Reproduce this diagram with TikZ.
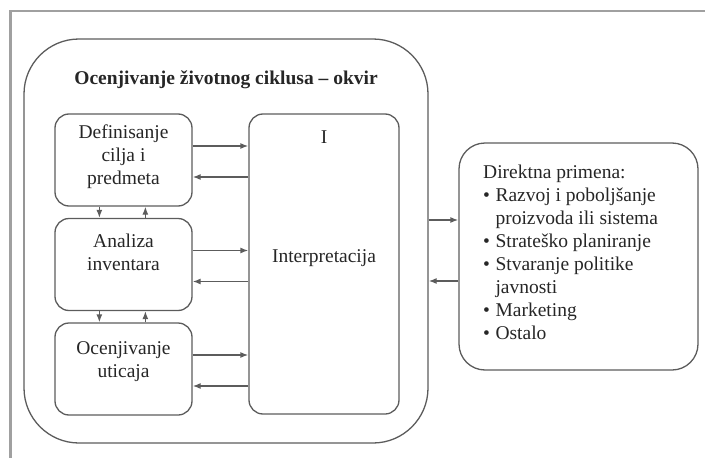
\documentclass[tikz,border=0pt]{standalone}
\usepackage{fontspec}
\setmainfont{Liberation Serif}
\usetikzlibrary{arrows.meta}
\definecolor{edge}{HTML}{5C5C5C}
\definecolor{ink}{HTML}{262626}
\definecolor{framegray}{HTML}{A0A0A0}
\begin{document}
\begin{tikzpicture}[x=1pt,y=-1pt,
  box/.style={draw=edge, line width=1.3pt, rounded corners=14pt, inner sep=0pt},
  arr/.style={draw=edge, line width=1.3pt, -{Latex[length=8pt,width=6pt]}},
  txt/.style={inner sep=0pt, align=center, text=ink, font=\fontsize{19.5}{23}\selectfont},
  ttl/.style={inner sep=0pt, text=ink, font=\fontsize{19.5}{23}\selectfont\bfseries},
  frameline/.style={draw=framegray, line width=2.5pt}]
\useasboundingbox (0,0) rectangle (705,458);
% page frame
\draw[frameline] (10.5,458) -- (10.5,11) -- (705,11);

% life cycle assessment framework
\node[box, rounded corners=55pt, minimum width=404pt, minimum height=404pt] (big) at (226,241) {};
\node[ttl] (title) at (226,80) {Ocenjivanje životnog ciklusa – okvir};

% phases
\node[box, minimum width=137pt, minimum height=92pt] (b1) at (123.5,160) {};
\node[box, minimum width=137pt, minimum height=92pt] (b2) at (123.5,264.5) {};
\node[box, minimum width=137pt, minimum height=92pt] (b3) at (123.5,369) {};
\node[txt] (t1) at (123.5,157) {Definisanje\\cilja i\\predmeta};
\node[txt] (t2) at (123.5,252) {Analiza\\inventara};
\node[txt] (t3) at (123.5,362) {Ocenjivanje\\uticaja};

% interpretation
\node[box, minimum width=150pt, minimum height=300pt] (ip) at (324,264) {};
\node[txt] (ipI) at (324,137) {I};
\node[txt] (ipT) at (324,258) {Interpretacija};

% direct applications
\node[box, rounded corners=26pt, minimum width=239pt, minimum height=227pt] (rb) at (578.5,256.5) {};
\node[inner sep=0pt, anchor=north west, text=ink, font=\fontsize{19.5}{23}\selectfont] (rt) at (483,162) {%
  \begin{tabular}{@{}l@{\hspace{5.5pt}}l@{}}
  \multicolumn{2}{@{}l@{}}{Direktna primena:}\\
  \textbullet & Razvoj i poboljšanje\\
   & proizvoda ili sistema\\
  \textbullet & Strateško planiranje\\
  \textbullet & Stvaranje politike\\
   & javnosti\\
  \textbullet & Marketing\\
  \textbullet & Ostalo
  \end{tabular}};

% phase <-> interpretation
\foreach \b in {b1,b2,b3}{
  \draw[arr] ([yshift=14pt]\b.east) -- ([yshift=14pt]\b.east -| ip.west);
  \draw[arr] ([yshift=-17pt]\b.east -| ip.west) -- ([yshift=-17pt]\b.east);
}
% phase <-> phase
\draw[arr] ([xshift=45pt]b1.south west) -- ([xshift=45pt]b2.north west);
\draw[arr] ([xshift=91pt]b2.north west) -- ([xshift=91pt]b1.south west);
\draw[arr] ([xshift=45pt]b2.south west) -- ([xshift=45pt]b3.north west);
\draw[arr] ([xshift=91pt]b3.north west) -- ([xshift=91pt]b2.south west);

% framework <-> applications
\draw[arr] (big.east |- 0,220) -- (rb.west |- 0,220);
\draw[arr] (rb.west |- 0,281) -- (big.east |- 0,281);
\end{tikzpicture}
\end{document}
